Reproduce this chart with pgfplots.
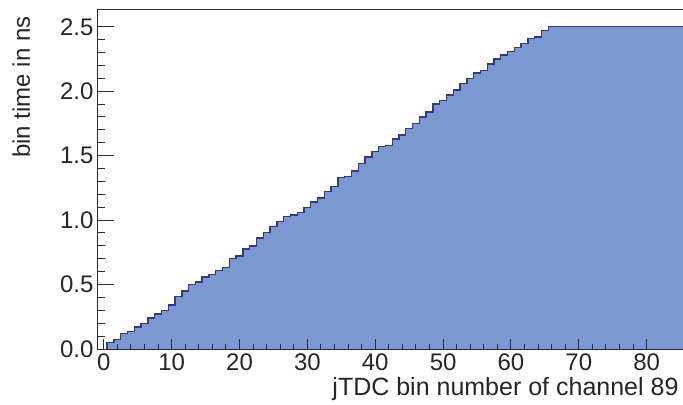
\documentclass[border=0pt]{standalone}
\usepackage{fontspec}
\setmainfont{Liberation Sans}
\usepackage{pgfplots}
\usepackage{pgfplotstable}
\pgfplotsset{compat=1.18}
\definecolor{histfill}{HTML}{7B98D0}
\definecolor{histline}{HTML}{2E3A8E}
\definecolor{axisgray}{HTML}{2A2A2A}

% left bin edge, bin content (bin k spans k-0.5 .. k+0.5)
\pgfplotstableread{
x y
0.5 0
0.5 0.05
1.5 0.075
2.5 0.12
3.5 0.134
4.5 0.17
5.5 0.20
6.5 0.24
7.5 0.27
8.5 0.30
9.5 0.34
10.5 0.405
11.5 0.45
12.5 0.50
13.5 0.52
14.5 0.56
15.5 0.58
16.5 0.61
17.5 0.63
18.5 0.70
19.5 0.72
20.5 0.775
21.5 0.80
22.5 0.86
23.5 0.905
24.5 0.95
25.5 0.99
26.5 1.03
27.5 1.04
28.5 1.06
29.5 1.10
30.5 1.14
31.5 1.17
32.5 1.22
33.5 1.26
34.5 1.33
35.5 1.34
36.5 1.38
37.5 1.44
38.5 1.49
39.5 1.53
40.5 1.57
41.5 1.58
42.5 1.63
43.5 1.66
44.5 1.71
45.5 1.75
46.5 1.80
47.5 1.84
48.5 1.90
49.5 1.93
50.5 1.97
51.5 2.01
52.5 2.06
53.5 2.10
54.5 2.14
55.5 2.16
56.5 2.21
57.5 2.25
58.5 2.28
59.5 2.31
60.5 2.34
61.5 2.37
62.5 2.41
63.5 2.42
64.5 2.47
65.5 2.50
75.5 2.50
86.5 2.50
}\histdata

\pgfplotsset{
  histframe/.style={
    scale only axis, width=586bp, height=339bp,
    at={(0,0)}, anchor=south west,
    xmin=-1, xmax=85.35, ymin=0, ymax=2.63,
    axis lines*=left,
    axis line style={axisgray, line width=1bp},
    every tick/.style={axisgray, line width=1bp},
    tick align=inside,
    tick label style={font=\fontsize{24bp}{28bp}\selectfont, text=black!85},
    /pgf/number format/assume math mode=true,
  },
}

\begin{document}
\begin{tikzpicture}
\useasboundingbox (-97bp,-56bp) rectangle (586bp,349bp);

% histogram and x ticks
\begin{axis}[histframe,
    axis on top,
    xtick={0,10,...,80}, minor x tick num=4,
    major tick length=10bp, minor tick length=5bp,
    ytick=\empty,
    xticklabel style={yshift=-1bp},
]
\addplot[const plot, fill=histfill, draw=none] table {\histdata} \closedcycle;
\addplot[const plot, histline, line width=1.4bp] table {\histdata};
\end{axis}

% y ticks (longer, as on the original)
\begin{axis}[histframe,
    xtick=\empty,
    ytick={0,0.5,...,2.5}, minor y tick num=4,
    major tick length=17bp, minor tick length=8bp,
    yticklabel style={/pgf/number format/.cd, fixed, fixed zerofill, precision=1},
]
\end{axis}

\draw[axisgray, line width=1bp] (0,339bp) -- (590bp,339bp);

\node[rotate=90, anchor=base east, font=\fontsize{24bp}{28bp}\selectfont, text=black!85]
    at (-67bp,336bp) {bin time in ns};
\node[anchor=base east, font=\fontsize{25bp}{29bp}\selectfont, text=black!85]
    at (585bp,-46bp) {jTDC bin number of channel 89};
\end{tikzpicture}
\end{document}
